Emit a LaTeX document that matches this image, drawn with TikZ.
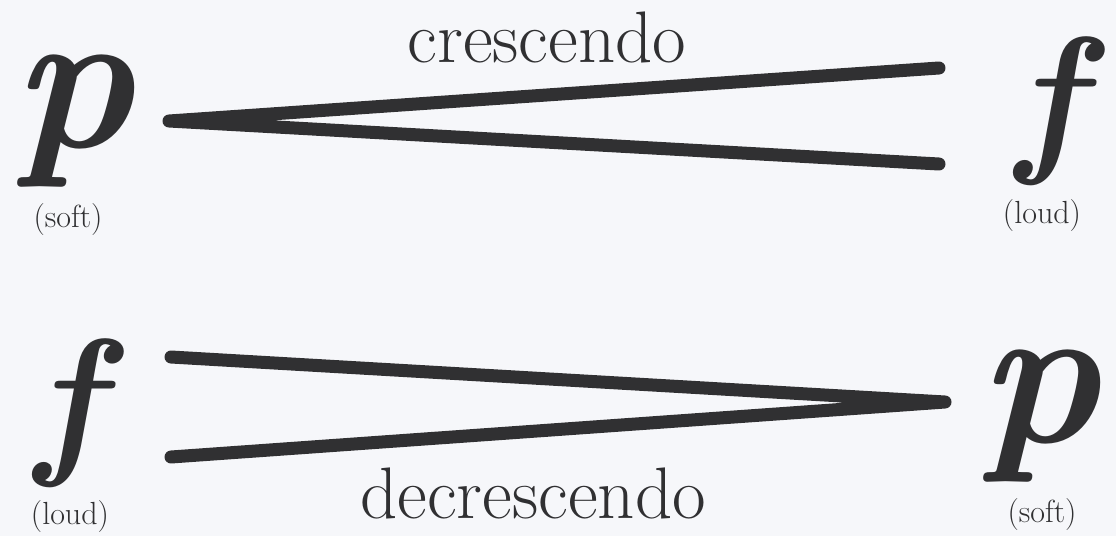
\documentclass[tikz,border=0pt]{standalone}
\usepackage{tikz}
\usetikzlibrary{positioning}
\definecolor{ink}{RGB}{48,48,50}
\definecolor{paper}{RGB}{246,247,250}

\begin{document}
\begin{tikzpicture}[x=1pt, y=-1pt,
  dyn/.style={inner sep=0pt, text=ink, font=\fontsize{#1}{#1}\selectfont\bfseries\itshape},
  word/.style={inner sep=0pt, text=ink, anchor=base, font=\fontsize{73}{73}\selectfont},
  lbl/.style={inner sep=0pt, text=ink, font=\fontsize{32}{32}\selectfont},
  hairpin/.style={draw=ink, line width=13pt, line cap=round, line join=round}]
\fill[paper] (0,0) rectangle (1116,536);
\useasboundingbox (0,0) rectangle (1116,536);

% crescendo
\node[dyn=205] (p1) at (73,121) {p};
\node[lbl] (soft1) at (68,220) {(soft)};
\node[dyn=165] (f1) at (1049,111) {f};
\node[lbl] (loud1) at (1042,216) {(loud)};
\node[word] (cresc) at (547,62) {crescendo};
\coordinate (c0) at (169,121);
\coordinate (c1) at (939,68);
\coordinate (c2) at (939,164);
\draw[hairpin] (c1) -- (c0) -- (c2);

% decrescendo
\node[dyn=165] (f2) at (68,413) {f};
\node[lbl] (loud2) at (70,517) {(loud)};
\node[dyn=205] (p2) at (1039,416) {p};
\node[lbl] (soft2) at (1042,515) {(soft)};
\node[word] (decresc) at (533,518) {decrescendo};
\coordinate (d0) at (945,402);
\coordinate (d1) at (171,357);
\coordinate (d2) at (171,457);
\draw[hairpin] (d1) -- (d0) -- (d2);
\end{tikzpicture}
\end{document}
